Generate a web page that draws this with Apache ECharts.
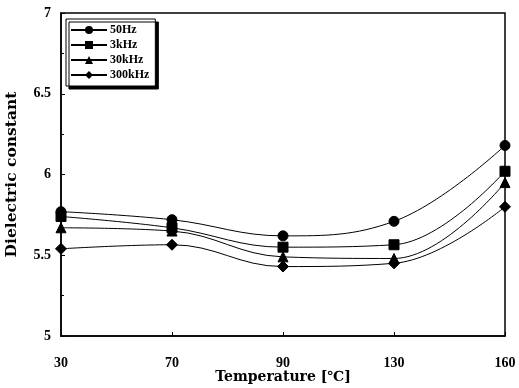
<!DOCTYPE html>
<html><head><meta charset="utf-8">
<script src="https://cdn.jsdelivr.net/npm/echarts@6/dist/echarts.min.js"></script>
<style>html,body{margin:0;padding:0;background:#fff}#c{width:519px;height:388px}</style>
</head><body><div id="c"></div>
<script>
const categories = ['30', '70', '90', '130', '160'];
const seriesNames = ['50Hz', '3kHz', '30kHz', '300kHz'];
const s50Hz = [5.77, 5.72, 5.62, 5.71, 6.18];
const s3kHz = [5.74, 5.67, 5.55, 5.565, 6.02];
const s30kHz = [5.67, 5.65, 5.49, 5.48, 5.95];
const s300kHz = [5.54, 5.565, 5.43, 5.45, 5.80];
const yTicks = [5, 5.5, 6, 6.5, 7];
const symbols = ['circle', 'rect', 'triangle', 'diamond'];
const values = [s50Hz, s3kHz, s30kHz, s300kHz];
const font = 'Liberation Serif';
const chart = echarts.init(document.getElementById('c'));
chart.setOption({
  animation: false,
  grid: {left: 61, right: 14, top: 13, bottom: 52, show: true, borderColor: '#000', borderWidth: 1.5,
    outerBoundsMode: 'none', containLabel: false},
  legend: {
    orient: 'vertical', left: 66, top: 19, itemGap: 3, itemWidth: 36, itemHeight: 10,
    padding: [5, 6, 5, 4],
    backgroundColor: '#fff', borderColor: '#000', borderWidth: 1,
    shadowColor: '#000', shadowBlur: 0, shadowOffsetX: 3, shadowOffsetY: 3,
    textStyle: {fontFamily: font, fontWeight: 'bold', fontSize: 12, color: '#000', padding: [0, 0, 0, -2]},
    data: seriesNames
  },
  xAxis: {
    type: 'category', data: categories, boundaryGap: false,
    name: 'Temperature [℃]', nameLocation: 'middle', nameGap: 34, nameMoveOverlap: false,
    nameTextStyle: {fontFamily: 'DejaVu Serif', fontWeight: 'bold', fontSize: 14, color: '#000'},
    axisLine: {lineStyle: {color: '#000', width: 1.5}},
    axisTick: {inside: true, length: 4, lineStyle: {color: '#000'}},
    axisLabel: {fontFamily: font, fontWeight: 'bold', fontSize: 14, color: '#000', margin: 20},
    splitLine: {show: false}
  },
  yAxis: {
    type: 'value', min: 5, max: 7, interval: 0.5,
    name: 'Dielectric constant', nameLocation: 'middle', nameGap: 41,
    nameTextStyle: {fontFamily: 'DejaVu Serif', fontWeight: 'bold', fontSize: 15.5, color: '#000'},
    axisLine: {show: true, lineStyle: {color: '#000', width: 1.5}},
    axisTick: {show: true, inside: true, length: 4, lineStyle: {color: '#000'}},
    minorTick: {show: true, splitNumber: 2, length: 3, lineStyle: {color: '#000'}},
    axisLabel: {fontFamily: font, fontWeight: 'bold', fontSize: 14, color: '#000', margin: 10,
      formatter: v => yTicks.includes(v) ? String(v) : ''},
    splitLine: {show: false}
  },
  series: seriesNames.map((n, i) => ({
    name: n, type: 'line', smooth: 0.4, data: values[i],
    symbol: symbols[i], symbolSize: i === 3 ? 11 : 10,
    lineStyle: {color: '#000', width: 1},
    itemStyle: {color: '#000', borderColor: '#000'}
  }))
});
</script></body></html>
